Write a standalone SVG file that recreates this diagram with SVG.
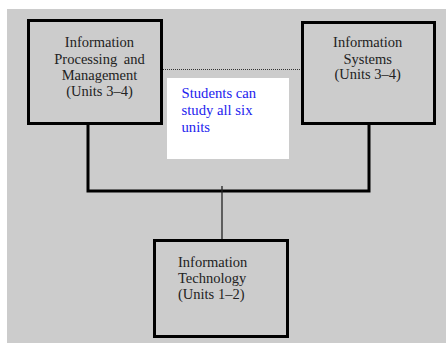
<svg xmlns="http://www.w3.org/2000/svg" width="446" height="343" viewBox="0 0 446 343">
<style>
.box{fill:#cccccc;stroke:#000;stroke-width:3}
.t{font-family:"Liberation Serif","Times New Roman",serif;font-size:14.5px;fill:#222}
.c{text-anchor:middle}
.conn{stroke:#000;stroke-width:3;fill:none}
</style>
<rect x="0" y="0" width="446" height="343" fill="#fff"/>
<rect x="7" y="9" width="439" height="334" fill="#cccccc"/>
<g id="connectors">
<line x1="163" y1="69.5" x2="306" y2="69.5" stroke="#333" stroke-width="1" stroke-dasharray="1,1"/>
<polyline class="conn" points="88,119 88,191 369,191 369,120"/>
<line x1="222" y1="186" x2="222" y2="240" stroke="#222" stroke-width="1.3"/>
</g>
<g id="note">
<rect x="167" y="78" width="122" height="81" fill="#fff"/>
<text x="181.5" y="98" font-family="Liberation Serif,serif" font-size="14.7px" fill="#2222ee">Students can</text>
<text x="181.5" y="115" font-family="Liberation Serif,serif" font-size="14.7px" fill="#2222ee">study all six</text>
<text x="181.5" y="132" font-family="Liberation Serif,serif" font-size="14.7px" fill="#2222ee">units</text>
</g>
<g id="ipm">
<rect class="box" x="28.5" y="20.5" width="133" height="103"/>
<text class="t c" x="99.5" y="47">Information</text>
<text class="t c" x="99.5" y="63.5" word-spacing="3">Processing and</text>
<text class="t c" x="99.5" y="79.5">Management</text>
<text class="t c" x="99.5" y="95.5">(Units 3–4)</text>
</g>
<g id="is">
<rect class="box" x="302.5" y="22.5" width="132" height="101"/>
<text class="t c" x="367.7" y="47">Information</text>
<text class="t c" x="367.7" y="63.5">Systems</text>
<text class="t c" x="367.7" y="79">(Units 3–4)</text>
</g>
<g id="it">
<rect class="box" x="154.5" y="240.5" width="133" height="96"/>
<text class="t" x="178" y="266.5">Information</text>
<text class="t" x="178" y="283">Technology</text>
<text class="t" x="178" y="299">(Units 1–2)</text>
</g>
</svg>
